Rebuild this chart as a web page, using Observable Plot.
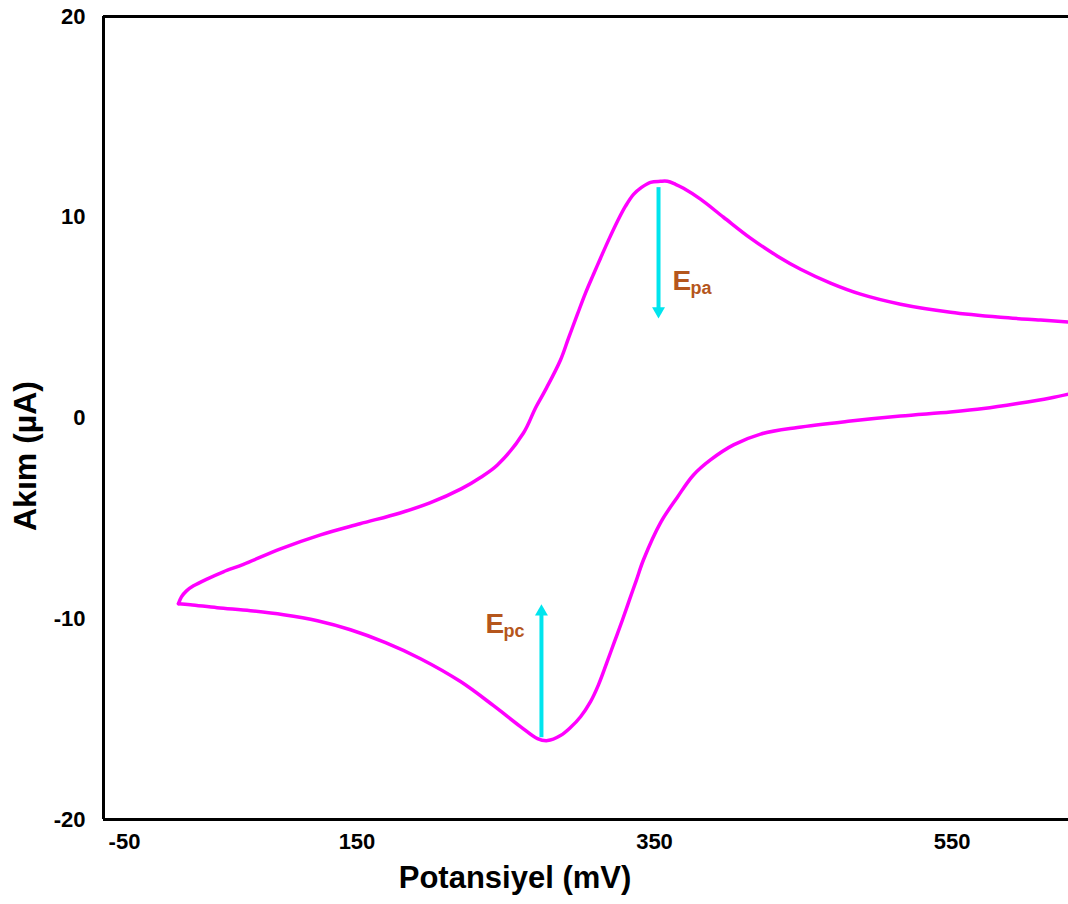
<!DOCTYPE html>
<html>
<head>
<meta charset="utf-8">
<script src="https://cdn.jsdelivr.net/npm/d3@7"></script>
<script src="https://cdn.jsdelivr.net/npm/@observablehq/plot@0.6"></script>
<style>
  html, body { margin: 0; padding: 0; background: #fff; }
  #chart svg { display: block; }
</style>
</head>
<body>
<div id="chart"></div>
<script>
// Cathodic sweep (lower branch), right -> left
const cathodicE = [628.3, 616.2, 594.0, 571.2, 549.0, 515.4, 481.8, 446.1, 421.3, 403.1, 387.6, 376.2, 365.5, 354.0, 342.6, 337.9, 333.2, 328.5, 323.1, 317.7, 312.4, 307.0, 300.3, 293.5, 286.8, 278.1, 271.3, 259.9, 241.8, 219.6, 192.7, 169.2, 145.6, 123.4, 100.6, 78.4, 56.0, 38.0, 30.0];
const cathodicI = [1.19, 1.0, 0.72, 0.47, 0.30, 0.10, -0.15, -0.47, -0.80, -1.34, -2.09, -2.84, -3.93, -5.22, -7.06, -8.06, -9.05, -10.05, -11.14, -12.24, -13.28, -14.13, -14.88, -15.42, -15.82, -16.07, -15.97, -15.37, -14.33, -13.13, -11.99, -11.19, -10.55, -10.10, -9.80, -9.60, -9.45, -9.30, -9.25];
// Anodic sweep (upper branch), left -> right
const anodicE = [30.0, 32.0, 35.4, 40.1, 49.5, 60.2, 73.7, 98.6, 125.5, 152.0, 179.0, 199.0, 220.0, 233.0, 244.4, 261.9, 270.0, 276.7, 286.8, 292.2, 298.2, 303.6, 309.0, 313.7, 319.1, 325.1, 330.5, 335.9, 341.3, 347.3, 354.0, 358.7, 364.1, 369.5, 380.9, 396.4, 414.5, 432.7, 448.2, 468.3, 488.5, 515.4, 549.0, 582.6, 609.5, 628.3];
const anodicI = [-9.25, -8.91, -8.61, -8.36, -8.01, -7.66, -7.29, -6.52, -5.82, -5.27, -4.73, -4.23, -3.53, -2.96, -2.34, -0.75, 0.5, 1.4, 2.89, 3.98, 5.17, 6.22, 7.16, 7.96, 8.86, 9.80, 10.55, 11.14, 11.49, 11.74, 11.79, 11.79, 11.64, 11.44, 10.9, 10.0, 8.96, 8.06, 7.41, 6.72, 6.17, 5.67, 5.27, 5.02, 4.88, 4.78];

// Peak markers (arrows)
const peakNames = ["pa", "pc"];
const peakE = [352.7, 274.0];
const arrowFromI = [11.5, -15.9];
const arrowToI = [4.98, -9.3];
// Peak label anchors
const labelE = [362.1, 236.4];
const labelI = [6.37, -10.7];

const xTicks = [150, 350, 550];
const yTicks = [-20, -10, 0, 10, 20];
const xDomain = [-20.4, 628.3];
const yDomain = [-20, 20];

const curve = [
  ...cathodicE.map((e, i) => ({branch: "cathodic", E: e, I: cathodicI[i]})).sort((a, b) => a.E - b.E),
  ...anodicE.map((e, i) => ({branch: "anodic", E: e, I: anodicI[i]}))
];
const arrows = peakNames.map((n, i) => ({name: n, E: peakE[i], i1: arrowFromI[i], i2: arrowToI[i]}));
const labels = peakNames.map((n, i) => ({name: n, E: labelE[i], I: labelI[i]}));

const brown = "#b5561c";
const cyan = "#00e5ee";
const font = "'Liberation Sans', Arial, sans-serif";

const chart = Plot.plot({
  width: 1068,
  height: 904,
  marginLeft: 103,
  marginRight: 0,
  marginTop: 16,
  marginBottom: 85,
  style: {fontFamily: font, fontSize: "22px", fontWeight: "bold", color: "#000", background: "#fff"},
  x: {domain: xDomain, label: null},
  y: {domain: yDomain, label: null},
  marks: [
    Plot.axisX({ticks: xTicks, tickSize: 0, tickPadding: 14, label: null, tickFormat: d => String(d)}),
    Plot.axisY({ticks: yTicks, tickSize: 0, tickPadding: 18, label: null, tickFormat: d => String(d)}),
    Plot.ruleY(yDomain, {stroke: "#000", strokeWidth: 3}),
    Plot.ruleX([xDomain[0]], {stroke: "#000", strokeWidth: 3}),
    Plot.line(curve, {x: "E", y: "I", z: "branch", stroke: "#ff00ff", strokeWidth: 3.5, curve: "catmull-rom"}),
    Plot.link(arrows, {x1: "E", x2: "E", y1: "i1", y2: d => d.i2 + (d.i1 > d.i2 ? 0.35 : -0.35), stroke: cyan, strokeWidth: 4}),
    Plot.dot(arrows, {filter: d => d.i1 > d.i2, x: "E", y: "i2", symbol: "triangle", r: 4.8, fill: cyan, stroke: "none", rotate: 180, dy: -7}),
    Plot.dot(arrows, {filter: d => d.i1 < d.i2, x: "E", y: "i2", symbol: "triangle", r: 4.8, fill: cyan, stroke: "none", dy: 7}),
    Plot.text(labels, {x: "E", y: "I", text: () => "E", fill: brown, fontSize: 28, fontWeight: "bold", textAnchor: "start", lineAnchor: "bottom"}),
    Plot.text(labels, {x: "E", y: "I", text: "name", fill: brown, fontSize: 18, fontWeight: "bold", textAnchor: "start", lineAnchor: "bottom", dx: 18, dy: 4}),
    Plot.text(["-50"], {frameAnchor: "bottom-left", text: d => d, textAnchor: "middle", lineAnchor: "top", dx: 21, dy: 14, fontSize: 22, fontWeight: "bold"}),
    Plot.text(["Potansiyel (mV)"], {frameAnchor: "bottom", text: d => d, textAnchor: "middle", lineAnchor: "bottom", dx: -71, dy: 68, fontSize: 31, fontWeight: "bold"}),
    Plot.text(["Akım (µA)"], {frameAnchor: "left", text: d => d, rotate: -90, textAnchor: "middle", lineAnchor: "bottom", dx: -68, dy: 38, fontSize: 32, fontWeight: "bold"})
  ]
});
document.getElementById("chart").appendChild(chart);
</script>
</body>
</html>
